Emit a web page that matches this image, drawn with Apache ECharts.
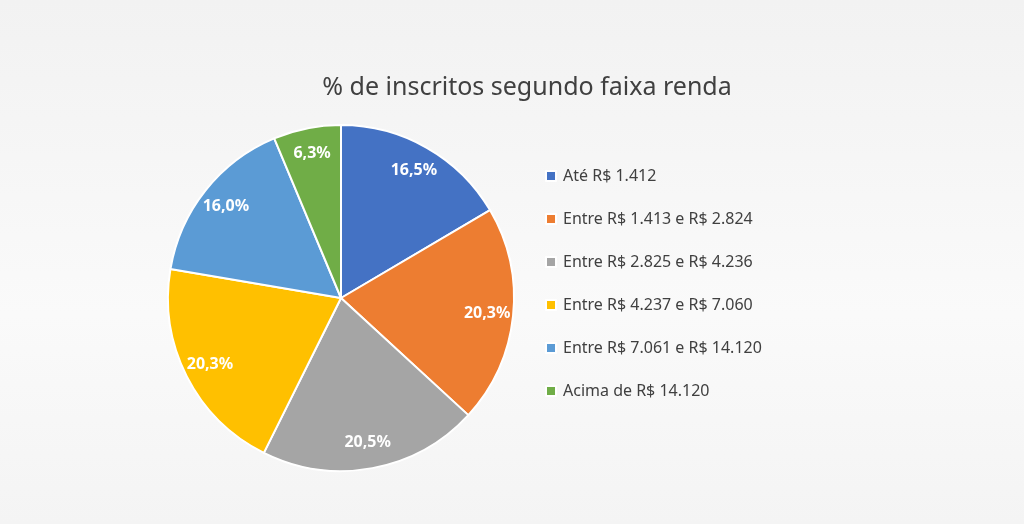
<!DOCTYPE html>
<html><head><meta charset="utf-8">
<script src="https://cdn.jsdelivr.net/npm/echarts@6/dist/echarts.min.js"></script>
<style>html,body{margin:0;padding:0;}#c{width:1024px;height:524px;background:linear-gradient(180deg,#f2f2f2 0%,#fafafa 60%,#f4f4f4 100%);}</style>
</head><body><div id="c"></div>
<script>
const categories=["Até R$ 1.412","Entre R$ 1.413 e R$ 2.824","Entre R$ 2.825 e R$ 4.236","Entre R$ 4.237 e R$ 7.060","Entre R$ 7.061 e R$ 14.120","Acima de R$ 14.120"];
const values=[16.5,20.3,20.5,20.3,16.0,6.3];
const colors=["#4472c4","#ed7d31","#a5a5a5","#ffc000","#5b9bd5","#70ad47"];
const font="Noto Sans";
const data=categories.map((n,i)=>({name:n,value:values[i],itemStyle:{color:colors[i]}}));
const chart=echarts.init(document.getElementById('c'));
chart.setOption({
  title:{text:"% de inscritos segundo faixa renda",left:522,top:70,textAlign:'center',textStyle:{fontFamily:font,fontSize:25,fontWeight:'normal',color:'#404040'}},
  legend:{orient:'vertical',left:540,top:163,itemGap:27,itemWidth:10,itemHeight:10,icon:'rect',data:categories,
    textStyle:{fontFamily:font,fontSize:16,color:'#404040',padding:[0,0,0,2]}},
  series:[
    {type:'pie',center:[341,298],radius:[0,173],startAngle:90,clockwise:true,data:data,
      itemStyle:{borderColor:'#fff',borderWidth:2},label:{show:false},labelLine:{show:false},silent:true,legendHoverLink:false},
    {type:'pie',center:[341,298],radius:[0,288],startAngle:90,clockwise:true,
      data:data.map(d=>({name:d.name,value:d.value,itemStyle:{color:'rgba(0,0,0,0)'}})),
      silent:true,z:5,
      label:{show:true,position:'inside',formatter:p=>p.value.toFixed(1).replace('.',',')+'%',
        color:'#fff',fontFamily:font,fontSize:16,fontWeight:'bold'},labelLine:{show:false}}
  ]
});
</script></body></html>
